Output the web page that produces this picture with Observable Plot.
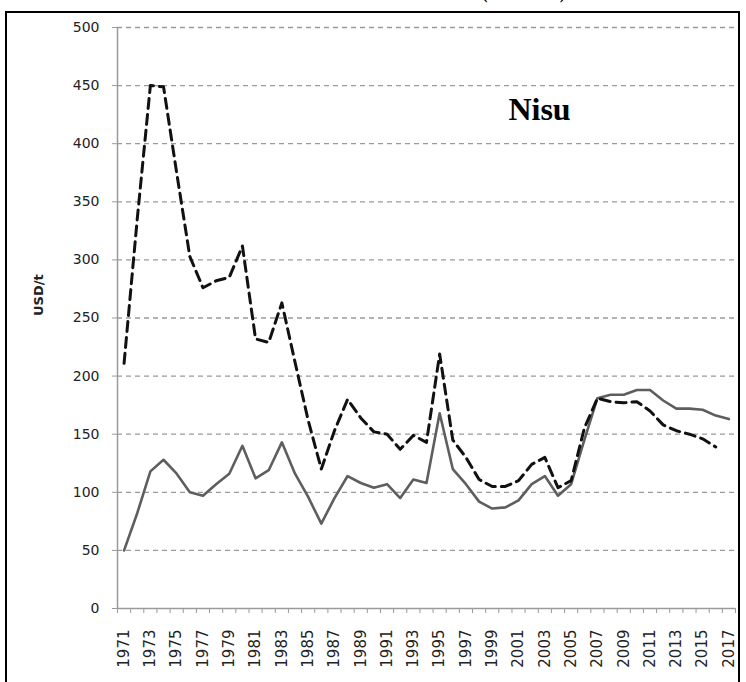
<!DOCTYPE html>
<html>
<head>
<meta charset="utf-8">
<script src="https://cdn.jsdelivr.net/npm/d3@7"></script>
<script src="https://cdn.jsdelivr.net/npm/@observablehq/plot@0.6"></script>
<style>
  html, body { margin: 0; padding: 0; background: #fff; width: 746px; height: 682px; overflow: hidden; }
  #frame { position: absolute; left: 5px; top: 11px; width: 735px; height: 700px; border: 2px solid #000; box-sizing: border-box; }
  #title { position: absolute; right: 181px; top: -15px; font-family: "Liberation Serif", serif; font-weight: bold; font-size: 16px; white-space: nowrap; color: #000; }
  #chart { position: absolute; left: 0; top: 0; }
</style>
</head>
<body>
<div id="frame"></div>
<div id="title">Nisu hinna dünaamika maailmaturul (1971–2017)</div>
<div id="chart"></div>
<script>
const years = [1971,1972,1973,1974,1975,1976,1977,1978,1979,1980,
  1981,1982,1983,1984,1985,1986,1987,1988,1989,1990,
  1991,1992,1993,1994,1995,1996,1997,1998,1999,2000,
  2001,2002,2003,2004,2005,2006,2007,2008,2009,2010,
  2011,2012,2013,2014,2015,2016,2017];

// solid grey series (USD/t)
const solidValues = [50,82,118,128,116,100,97,107,116,140,
  112,119,143,116,96,73,95,114,108,104,
  107,95,111,108,168,120,107,92,86,87,
  93,107,114,97,107,145,181,184,184,188,
  188,179,172,172,171,166,163];

// dashed black series (USD/t)
const dashedValues = [211,335,450,449,375,303,276,282,285,312,
  232,229,263,212,162,120,153,180,164,152,
  150,137,149,143,219,145,130,111,105,105,
  110,124,130,104,110,155,181,178,177,178,
  170,158,153,150,146,139,null];

const yTicks = [0,50,100,150,200,250,300,350,400,450,500];
const labelYears = [1971,1973,1975,1977,1979,1981,1983,1985,1987,1989,1991,1993,1995,1997,1999,2001,2003,2005,2007,2009,2011,2013,2015,2017];
const yLabel = "USD/t";
const panelTitle = "Nisu";

const solid = years.map((year, i) => ({year, value: solidValues[i]}));
const dashed = years.map((year, i) => ({year, value: dashedValues[i]}));
const boundaries = [...years.map(y => y - 0.5), years[years.length - 1] + 0.5];

const chart = Plot.plot({
  width: 746,
  height: 682,
  marginLeft: 117,
  marginRight: 11,
  marginTop: 27,
  marginBottom: 74,
  x: {domain: [years[0] - 0.5, years[years.length - 1] + 0.5]},
  y: {domain: [0, 500]},
  style: {background: "transparent", fontFamily: "DejaVu Sans, sans-serif", fontSize: "14px", color: "#222"},
  marks: [
    Plot.ruleY(yTicks.filter(v => v > 0), {stroke: "#9a9a9a", strokeDasharray: "5,4", strokeWidth: 1.3, strokeOpacity: 1}),
    Plot.ruleY([0], {stroke: "#9a9a9a", strokeWidth: 1.5}),
    Plot.ruleX([boundaries[0]], {stroke: "#9a9a9a", strokeWidth: 1.5}),
    Plot.axisY(yTicks, {tickSize: 5, tickPadding: 13, stroke: "#9a9a9a", fill: "#222", fontSize: 14, label: null}),
    Plot.axisX(boundaries, {tickSize: 5, tickFormat: () => "", stroke: "#9a9a9a", label: null}),
    Plot.axisX(labelYears, {tickSize: 0, tickPadding: 21, tickRotate: -90, fill: "#222", fontSize: 15, label: null, tickFormat: d => String(d)}),
    Plot.line(solid, {x: "year", y: "value", stroke: "#5e5e5e", strokeWidth: 2.6, strokeLinejoin: "round"}),
    Plot.line(dashed, {x: "year", y: "value", stroke: "#111", strokeWidth: 3, strokeDasharray: "10,6", strokeLinejoin: "round"}),
    Plot.text([panelTitle], {frameAnchor: "top", dx: 113, dy: 70, fontFamily: "Liberation Serif, serif", fontWeight: "bold", fontSize: 32, fill: "#000"}),
    Plot.text([yLabel], {frameAnchor: "left", rotate: -90, dx: -79, dy: -2, fontWeight: "bold", fontSize: 13, fill: "#222"})
  ]
});
document.getElementById("chart").appendChild(chart);
</script>
</body>
</html>
